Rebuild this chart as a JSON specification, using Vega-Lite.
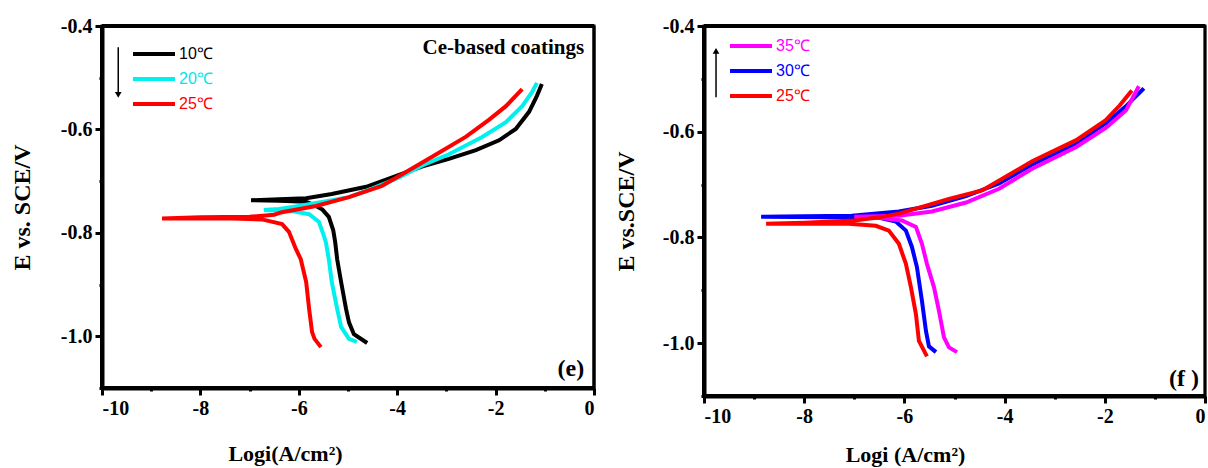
{
  "$schema": "https://vega.github.io/schema/vega-lite/v6.json",
  "padding": {"left": 8, "top": 14, "right": 0, "bottom": 0},
  "background": "white",
  "spacing": 110,
  "bounds": "flush",
  "resolve": {"scale": {"color": "independent"}, "legend": {"color": "independent"}},
  "config": {
    "view": {"stroke": "#000000", "strokeWidth": 3},
    "axis": {"labelFont": "Liberation Serif", "labelFontWeight": "bold", "labelFontSize": 20, "labelColor": "black", "titleFont": "Liberation Serif", "titleFontWeight": "bold", "titleColor": "black", "grid": false, "labelPadding": 3,
      "domainColor": "#000000", "domainWidth": 4, "tickColor": "#000000", "tickWidth": 3},
    "legend": {"orient": "none", "symbolType": "M-1.4,0H1.4", "symbolStrokeWidth": 4, "symbolSize": 900, "labelFont": "Liberation Sans", "labelFontSize": 16, "labelOffset": 8, "rowPadding": 0, "padding": 0}
  },
  "hconcat": [
    {
      "width": 492,
      "height": 362,
      "data": {"values": [
        {"s": "10℃", "i": 1, "x": -4.61, "y": -1.013},
        {"s": "10℃", "i": 2, "x": -4.88, "y": -0.996},
        {"s": "10℃", "i": 3, "x": -4.98, "y": -0.973},
        {"s": "10℃", "i": 4, "x": -5.04, "y": -0.947},
        {"s": "10℃", "i": 5, "x": -5.14, "y": -0.895},
        {"s": "10℃", "i": 6, "x": -5.22, "y": -0.851},
        {"s": "10℃", "i": 7, "x": -5.26, "y": -0.818},
        {"s": "10℃", "i": 8, "x": -5.30, "y": -0.795},
        {"s": "10℃", "i": 9, "x": -5.39, "y": -0.769},
        {"s": "10℃", "i": 10, "x": -5.52, "y": -0.755},
        {"s": "10℃", "i": 11, "x": -5.65, "y": -0.748},
        {"s": "10℃", "i": 12, "x": -5.85, "y": -0.740},
        {"s": "10℃", "i": 13, "x": -6.4, "y": -0.738},
        {"s": "10℃", "i": 14, "x": -6.97, "y": -0.737},
        {"s": "10℃", "i": 15, "x": -6.4, "y": -0.735},
        {"s": "10℃", "i": 16, "x": -5.85, "y": -0.733},
        {"s": "10℃", "i": 17, "x": -5.33, "y": -0.725},
        {"s": "10℃", "i": 18, "x": -4.63, "y": -0.711},
        {"s": "10℃", "i": 19, "x": -3.96, "y": -0.688},
        {"s": "10℃", "i": 20, "x": -3.5, "y": -0.672},
        {"s": "10℃", "i": 21, "x": -2.95, "y": -0.657},
        {"s": "10℃", "i": 22, "x": -2.4, "y": -0.640},
        {"s": "10℃", "i": 23, "x": -1.93, "y": -0.621},
        {"s": "10℃", "i": 24, "x": -1.59, "y": -0.599},
        {"s": "10℃", "i": 25, "x": -1.32, "y": -0.566},
        {"s": "10℃", "i": 26, "x": -1.16, "y": -0.535},
        {"s": "10℃", "i": 27, "x": -1.06, "y": -0.512},
        {"s": "20℃", "i": 1, "x": -4.82, "y": -1.011},
        {"s": "20℃", "i": 2, "x": -4.98, "y": -1.005},
        {"s": "20℃", "i": 3, "x": -5.14, "y": -0.982},
        {"s": "20℃", "i": 4, "x": -5.22, "y": -0.947},
        {"s": "20℃", "i": 5, "x": -5.33, "y": -0.895},
        {"s": "20℃", "i": 6, "x": -5.39, "y": -0.851},
        {"s": "20℃", "i": 7, "x": -5.45, "y": -0.818},
        {"s": "20℃", "i": 8, "x": -5.49, "y": -0.806},
        {"s": "20℃", "i": 9, "x": -5.59, "y": -0.779},
        {"s": "20℃", "i": 10, "x": -5.79, "y": -0.764},
        {"s": "20℃", "i": 11, "x": -6.14, "y": -0.758},
        {"s": "20℃", "i": 12, "x": -6.71, "y": -0.756},
        {"s": "20℃", "i": 13, "x": -6.4, "y": -0.754},
        {"s": "20℃", "i": 14, "x": -6.0, "y": -0.748},
        {"s": "20℃", "i": 15, "x": -5.5, "y": -0.740},
        {"s": "20℃", "i": 16, "x": -4.98, "y": -0.731},
        {"s": "20℃", "i": 17, "x": -4.5, "y": -0.714},
        {"s": "20℃", "i": 18, "x": -3.96, "y": -0.693},
        {"s": "20℃", "i": 19, "x": -3.5, "y": -0.670},
        {"s": "20℃", "i": 20, "x": -2.95, "y": -0.648},
        {"s": "20℃", "i": 21, "x": -2.28, "y": -0.615},
        {"s": "20℃", "i": 22, "x": -1.79, "y": -0.586},
        {"s": "20℃", "i": 23, "x": -1.46, "y": -0.555},
        {"s": "20℃", "i": 24, "x": -1.26, "y": -0.528},
        {"s": "20℃", "i": 25, "x": -1.16, "y": -0.510},
        {"s": "25℃", "i": 1, "x": -5.55, "y": -1.021},
        {"s": "25℃", "i": 2, "x": -5.68, "y": -1.005},
        {"s": "25℃", "i": 3, "x": -5.73, "y": -0.992},
        {"s": "25℃", "i": 4, "x": -5.79, "y": -0.947},
        {"s": "25℃", "i": 5, "x": -5.85, "y": -0.895},
        {"s": "25℃", "i": 6, "x": -5.96, "y": -0.851},
        {"s": "25℃", "i": 7, "x": -6.06, "y": -0.831},
        {"s": "25℃", "i": 8, "x": -6.2, "y": -0.798},
        {"s": "25℃", "i": 9, "x": -6.34, "y": -0.783},
        {"s": "25℃", "i": 10, "x": -6.75, "y": -0.774},
        {"s": "25℃", "i": 11, "x": -7.36, "y": -0.772},
        {"s": "25℃", "i": 12, "x": -8.2, "y": -0.772},
        {"s": "25℃", "i": 13, "x": -8.78, "y": -0.772},
        {"s": "25℃", "i": 14, "x": -8.0, "y": -0.770},
        {"s": "25℃", "i": 15, "x": -7.0, "y": -0.769},
        {"s": "25℃", "i": 16, "x": -6.5, "y": -0.765},
        {"s": "25℃", "i": 17, "x": -6.34, "y": -0.760},
        {"s": "25℃", "i": 18, "x": -5.65, "y": -0.748},
        {"s": "25℃", "i": 19, "x": -4.98, "y": -0.731},
        {"s": "25℃", "i": 20, "x": -4.31, "y": -0.709},
        {"s": "25℃", "i": 21, "x": -3.96, "y": -0.690},
        {"s": "25℃", "i": 22, "x": -3.29, "y": -0.653},
        {"s": "25℃", "i": 23, "x": -2.6, "y": -0.614},
        {"s": "25℃", "i": 24, "x": -2.13, "y": -0.581},
        {"s": "25℃", "i": 25, "x": -1.79, "y": -0.555},
        {"s": "25℃", "i": 26, "x": -1.46, "y": -0.522}
      ]},
      "layer": [
        {
          "mark": {"type": "line", "strokeWidth": 4, "clip": true},
          "encoding": {
            "x": {"field": "x", "type": "quantitative", "scale": {"domain": [-10, 0], "nice": false},
              "axis": {"title": "Logi(A/cm²)", "titleFontSize": 22, "values": [-10, -9, -8, -7, -6, -5, -4, -3, -2, -1, 0],
                "labelExpr": "datum.value % 2 == 0 ? (datum.value < 0 ? '-' : '') + abs(datum.value) : ''",
                "tickSize": {"condition": {"test": "datum.value % 2 == 0", "value": 7}, "value": 3},
                "titleX": 183, "titleY": 72, "titleAlign": "center", "titleBaseline": "alphabetic"}},
            "y": {"field": "y", "type": "quantitative", "scale": {"domain": [-1.1, -0.4], "nice": false, "zero": false},
              "axis": {"title": "E vs. SCE/V", "titleFontSize": 24, "values": [-1.1, -1.0, -0.9, -0.8, -0.7, -0.6, -0.5, -0.4],
                "labelExpr": "abs(round(datum.value*10)) % 2 == 0 ? (datum.value < 0 ? '-' : '') + format(abs(datum.value), '.1f') : ''",
                "tickSize": {"condition": {"test": "abs(round(datum.value*10)) % 2 == 0", "value": 7}, "value": 3},
                "titleX": -73, "titleY": 181, "titleAngle": -90, "titleAlign": "center", "titleBaseline": "alphabetic"}},
            "color": {"field": "s", "type": "nominal",
              "scale": {"domain": ["10℃", "20℃", "25℃"], "range": ["#000000", "#00F0F0", "#FF0000"]},
              "legend": {"title": null, "legendX": 35, "legendY": 11,
                "encode": {"labels": {"update": {"fill": {"signal": "datum.value === '10℃' ? '#000000' : datum.value === '20℃' ? '#00E5EE' : '#FF0000'"}}}}}},
            "order": {"field": "i", "type": "quantitative"}
          }
        },
        {"data": {"values": [{}]}, "mark": {"type": "rule", "strokeWidth": 4, "color": "#000000"},
         "encoding": {"x": {"datum": -10}, "y": {"datum": -1.1}, "y2": {"datum": -0.4}}},
        {"data": {"values": [{}]}, "mark": {"type": "rule", "strokeWidth": 4, "color": "#000000"},
         "encoding": {"y": {"datum": -1.1}, "x": {"datum": -10}, "x2": {"datum": 0}}},
        {"data": {"values": [{}]}, "mark": {"type": "rule", "strokeWidth": 4, "color": "#000000"},
         "encoding": {"y": {"datum": -0.4}, "x": {"datum": -10}, "x2": {"datum": 0}}},
        {"data": {"values": [{}]}, "mark": {"type": "rule", "strokeWidth": 3, "color": "#000000"},
         "encoding": {"x": {"datum": 0}, "y": {"datum": -1.1}, "y2": {"datum": -0.4}}},
        {"data": {"values": [{}]}, "mark": {"type": "rule", "strokeWidth": 1.5, "color": "black"},
         "encoding": {"x": {"datum": -9.67}, "y": {"datum": -0.441}, "y2": {"datum": -0.53}}},
        {"data": {"values": [{}]}, "mark": {"type": "point", "shape": "triangle-down", "filled": true, "size": 45, "color": "black", "opacity": 1},
         "encoding": {"x": {"datum": -9.67}, "y": {"datum": -0.533}}},
        {"data": {"values": [{}]}, "mark": {"type": "text", "text": "Ce-based coatings", "align": "right", "baseline": "alphabetic", "font": "Liberation Serif", "fontWeight": "bold", "fontSize": 21, "color": "black"},
         "encoding": {"x": {"datum": -0.2}, "y": {"datum": -0.454}}},
        {"data": {"values": [{}]}, "mark": {"type": "text", "text": "(e)", "align": "right", "baseline": "alphabetic", "font": "Liberation Serif", "fontWeight": "bold", "fontSize": 24, "color": "black"},
         "encoding": {"x": {"datum": -0.2}, "y": {"datum": -1.077}}}
      ]
    },
    {
      "width": 501,
      "height": 370,
      "data": {"values": [
        {"s": "30℃", "i": 1, "x": -5.37, "y": -1.017},
        {"s": "30℃", "i": 2, "x": -5.51, "y": -1.006},
        {"s": "30℃", "i": 3, "x": -5.57, "y": -0.977},
        {"s": "30℃", "i": 4, "x": -5.65, "y": -0.920},
        {"s": "30℃", "i": 5, "x": -5.75, "y": -0.856},
        {"s": "30℃", "i": 6, "x": -5.85, "y": -0.818},
        {"s": "30℃", "i": 7, "x": -5.97, "y": -0.787},
        {"s": "30℃", "i": 8, "x": -6.17, "y": -0.770},
        {"s": "30℃", "i": 9, "x": -6.5, "y": -0.763},
        {"s": "30℃", "i": 10, "x": -7.5, "y": -0.762},
        {"s": "30℃", "i": 11, "x": -8.86, "y": -0.761},
        {"s": "30℃", "i": 12, "x": -8.0, "y": -0.760},
        {"s": "30℃", "i": 13, "x": -7.05, "y": -0.759},
        {"s": "30℃", "i": 14, "x": -6.11, "y": -0.751},
        {"s": "30℃", "i": 15, "x": -5.45, "y": -0.740},
        {"s": "30℃", "i": 16, "x": -4.77, "y": -0.722},
        {"s": "30℃", "i": 17, "x": -4.11, "y": -0.698},
        {"s": "30℃", "i": 18, "x": -3.45, "y": -0.662},
        {"s": "30℃", "i": 19, "x": -2.57, "y": -0.622},
        {"s": "30℃", "i": 20, "x": -1.98, "y": -0.584},
        {"s": "30℃", "i": 21, "x": -1.58, "y": -0.552},
        {"s": "30℃", "i": 22, "x": -1.22, "y": -0.518},
        {"s": "35℃", "i": 1, "x": -4.95, "y": -1.017},
        {"s": "35℃", "i": 2, "x": -5.11, "y": -1.008},
        {"s": "35℃", "i": 3, "x": -5.21, "y": -0.989},
        {"s": "35℃", "i": 4, "x": -5.31, "y": -0.939},
        {"s": "35℃", "i": 5, "x": -5.41, "y": -0.894},
        {"s": "35℃", "i": 6, "x": -5.55, "y": -0.850},
        {"s": "35℃", "i": 7, "x": -5.65, "y": -0.812},
        {"s": "35℃", "i": 8, "x": -5.77, "y": -0.780},
        {"s": "35℃", "i": 9, "x": -6.05, "y": -0.768},
        {"s": "35℃", "i": 10, "x": -6.5, "y": -0.763},
        {"s": "35℃", "i": 11, "x": -7.0, "y": -0.761},
        {"s": "35℃", "i": 12, "x": -6.5, "y": -0.760},
        {"s": "35℃", "i": 13, "x": -6.11, "y": -0.759},
        {"s": "35℃", "i": 14, "x": -5.45, "y": -0.751},
        {"s": "35℃", "i": 15, "x": -4.77, "y": -0.734},
        {"s": "35℃", "i": 16, "x": -4.11, "y": -0.708},
        {"s": "35℃", "i": 17, "x": -3.45, "y": -0.670},
        {"s": "35℃", "i": 18, "x": -2.57, "y": -0.629},
        {"s": "35℃", "i": 19, "x": -1.98, "y": -0.593},
        {"s": "35℃", "i": 20, "x": -1.58, "y": -0.560},
        {"s": "35℃", "i": 21, "x": -1.32, "y": -0.514},
        {"s": "25℃", "i": 1, "x": -5.55, "y": -1.025},
        {"s": "25℃", "i": 2, "x": -5.71, "y": -0.996},
        {"s": "25℃", "i": 3, "x": -5.77, "y": -0.945},
        {"s": "25℃", "i": 4, "x": -5.87, "y": -0.894},
        {"s": "25℃", "i": 5, "x": -5.97, "y": -0.850},
        {"s": "25℃", "i": 6, "x": -6.11, "y": -0.812},
        {"s": "25℃", "i": 7, "x": -6.31, "y": -0.787},
        {"s": "25℃", "i": 8, "x": -6.57, "y": -0.778},
        {"s": "25℃", "i": 9, "x": -7.11, "y": -0.774},
        {"s": "25℃", "i": 10, "x": -8.0, "y": -0.774},
        {"s": "25℃", "i": 11, "x": -8.76, "y": -0.774},
        {"s": "25℃", "i": 12, "x": -8.0, "y": -0.772},
        {"s": "25℃", "i": 13, "x": -7.0, "y": -0.768},
        {"s": "25℃", "i": 14, "x": -6.5, "y": -0.762},
        {"s": "25℃", "i": 15, "x": -6.11, "y": -0.755},
        {"s": "25℃", "i": 16, "x": -5.11, "y": -0.727},
        {"s": "25℃", "i": 17, "x": -4.45, "y": -0.711},
        {"s": "25℃", "i": 18, "x": -3.45, "y": -0.656},
        {"s": "25℃", "i": 19, "x": -2.57, "y": -0.616},
        {"s": "25℃", "i": 20, "x": -1.98, "y": -0.578},
        {"s": "25℃", "i": 21, "x": -1.70, "y": -0.550},
        {"s": "25℃", "i": 22, "x": -1.46, "y": -0.522}
      ]},
      "layer": [
        {
          "mark": {"type": "line", "strokeWidth": 4, "clip": true},
          "encoding": {
            "x": {"field": "x", "type": "quantitative", "scale": {"domain": [-10, 0], "nice": false},
              "axis": {"title": "Logi (A/cm²)", "titleFontSize": 22, "values": [-10, -9, -8, -7, -6, -5, -4, -3, -2, -1, 0],
                "labelExpr": "datum.value % 2 == 0 ? (datum.value < 0 ? '-' : '') + abs(datum.value) : ''",
                "tickSize": {"condition": {"test": "datum.value % 2 == 0", "value": 7}, "value": 3},
                "titleX": 201, "titleY": 65, "titleAlign": "center", "titleBaseline": "alphabetic"}},
            "y": {"field": "y", "type": "quantitative", "scale": {"domain": [-1.1, -0.4], "nice": false, "zero": false},
              "axis": {"title": "E vs.SCE/V", "titleFontSize": 24, "values": [-1.1, -1.0, -0.9, -0.8, -0.7, -0.6, -0.5, -0.4],
                "labelExpr": "abs(round(datum.value*10)) % 2 == 0 ? (datum.value < 0 ? '-' : '') + format(abs(datum.value), '.1f') : ''",
                "tickSize": {"condition": {"test": "abs(round(datum.value*10)) % 2 == 0", "value": 7}, "value": 3},
                "titleX": -71, "titleY": 185, "titleAngle": -90, "titleAlign": "center", "titleBaseline": "alphabetic"}},
            "color": {"field": "s", "type": "nominal",
              "scale": {"domain": ["35℃", "30℃", "25℃"], "range": ["#FF00FF", "#0000FF", "#FF0000"]},
              "legend": {"title": null, "legendX": 30, "legendY": 3,
                "encode": {"labels": {"update": {"fill": {"signal": "datum.value === '35℃' ? '#FF00FF' : datum.value === '30℃' ? '#0000FF' : '#FF0000'"}}}}}},
            "order": {"field": "i", "type": "quantitative"}
          }
        },
        {"data": {"values": [{}]}, "mark": {"type": "rule", "strokeWidth": 4, "color": "#000000"},
         "encoding": {"x": {"datum": -10}, "y": {"datum": -1.1}, "y2": {"datum": -0.4}}},
        {"data": {"values": [{}]}, "mark": {"type": "rule", "strokeWidth": 4, "color": "#000000"},
         "encoding": {"y": {"datum": -1.1}, "x": {"datum": -10}, "x2": {"datum": 0}}},
        {"data": {"values": [{}]}, "mark": {"type": "rule", "strokeWidth": 4, "color": "#000000"},
         "encoding": {"y": {"datum": -0.4}, "x": {"datum": -10}, "x2": {"datum": 0}}},
        {"data": {"values": [{}]}, "mark": {"type": "rule", "strokeWidth": 2.5, "color": "#000000"},
         "encoding": {"x": {"datum": 0}, "y": {"datum": -1.1}, "y2": {"datum": -0.4}}},
        {"data": {"values": [{}]}, "mark": {"type": "rule", "strokeWidth": 1.5, "color": "black"},
         "encoding": {"x": {"datum": -9.76}, "y": {"datum": -0.535}, "y2": {"datum": -0.45}}},
        {"data": {"values": [{}]}, "mark": {"type": "point", "shape": "triangle-up", "filled": true, "size": 45, "color": "black", "opacity": 1},
         "encoding": {"x": {"datum": -9.76}, "y": {"datum": -0.447}}},
        {"data": {"values": [{}]}, "mark": {"type": "text", "text": "(f )", "align": "right", "baseline": "alphabetic", "font": "Liberation Serif", "fontWeight": "bold", "fontSize": 24, "color": "black"},
         "encoding": {"x": {"datum": -0.12}, "y": {"datum": -1.082}}}
      ]
    }
  ]
}
